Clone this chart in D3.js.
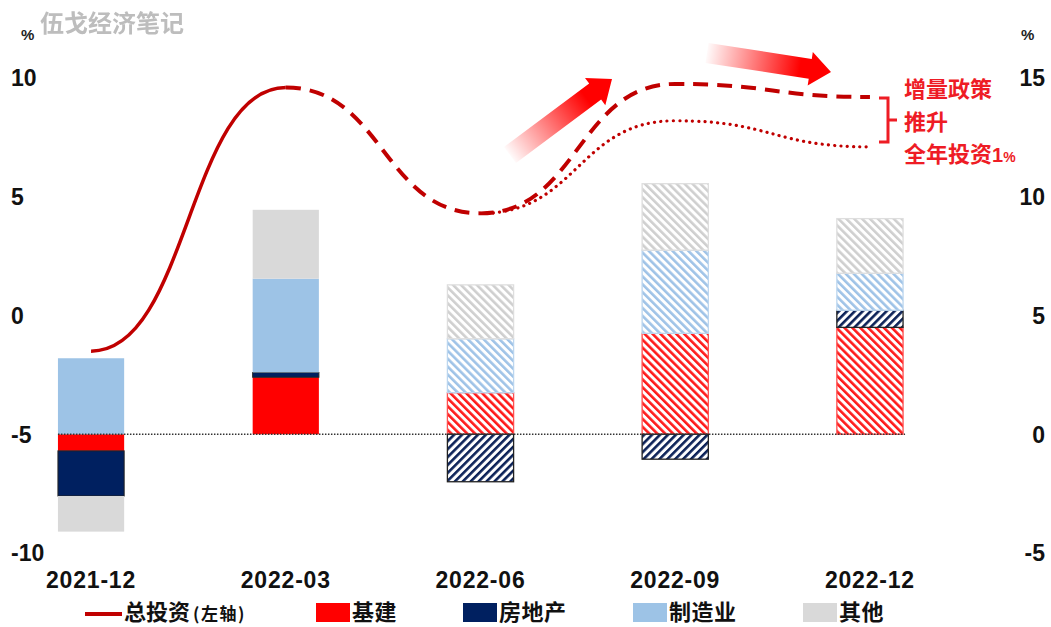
<!DOCTYPE html>
<html><head><meta charset="utf-8">
<script src="https://cdn.jsdelivr.net/npm/d3@7/dist/d3.min.js"></script>
<style>body{margin:0;background:#fff}svg{display:block}</style>
</head><body><svg id="c" width="1051" height="627"></svg>
<script>
// ---- data ----
const categories = ["2021-12", "2022-03", "2022-06", "2022-09", "2022-12"];
const infra        = [-0.7, 2.4, 1.75, 4.25, 4.5];   // 基建 (right axis)
const realEstate   = [-1.9, 0.2, -2.0, -1.05, 0.72]; // 房地产
const manufacturing= [3.2, 3.95, 2.27, 3.5, 1.56];   // 制造业
const others       = [-1.5, 2.9, 2.27, 2.8, 2.3];    // 其他
const projected    = [false, false, true, true, true];
const totalActualCats = ["2021-12", "2022-03"];
const totalActual     = [-1.5, 9.6];                 // 总投资 (left axis)
const totalPolicyCats = ["2022-03", "2022-06", "2022-09", "2022-12"];
const totalPolicy     = [9.6, 4.3, 9.75, 9.2];
const totalBaseCats   = ["2022-06", "2022-09", "2022-12"];
const totalBase       = [4.3, 8.2, 7.1];
const leftTicks  = [-10, -5, 0, 5, 10];
const rightTicks = [-5, 0, 5, 10, 15];
const seriesKeys = ["infra", "realEstate", "manufacturing", "others"];
const seriesNames = ["基建", "房地产", "制造业", "其他"];

// ---- setup ----
const svg = d3.select("#c");
const LAT = "'Liberation Sans', Arial, sans-serif";
const CJK = "'Noto Sans CJK SC', 'Noto Sans', sans-serif";
const colors = {infra: "#ff0000", realEstate: "#002060", manufacturing: "#9dc3e6", others: "#d9d9d9"};
const hatchColors = {infra: "#ff1a1a", realEstate: "#0c2258", manufacturing: "#9fc3e7", others: "#cfcfcf"};
const hatchDir = {infra: -45, realEstate: 45, manufacturing: -45, others: -45};
const outline = {infra: "#ff5050", realEstate: "#222", manufacturing: "#bcd6ef", others: "#dedede"};

const x = d3.scaleBand().domain(categories).range([19, 942]).paddingInner(0.66).paddingOuter(0.2);
const yL = d3.scaleLinear().domain([-10, 10]).range([553, 78]);
const yR = d3.scaleLinear().domain([-5, 15]).range([553, 78]);
const cx = c => x(c) + x.bandwidth() / 2;

const defs = svg.append("defs");
seriesKeys.forEach(k => {
  const p = defs.append("pattern").attr("id", "h-" + k)
    .attr("patternUnits", "userSpaceOnUse").attr("width", 5.6).attr("height", 10)
    .attr("patternTransform", `rotate(${hatchDir[k]})`);
  p.append("rect").attr("width", 5.6).attr("height", 10).attr("fill", "#fff");
  p.append("rect").attr("width", 2.6).attr("height", 10).attr("fill", hatchColors[k]);
});

// ---- stacked bars ----
const table = categories.map((c, i) => ({
  cat: c, infra: infra[i], realEstate: realEstate[i],
  manufacturing: manufacturing[i], others: others[i], proj: projected[i]
}));
const stacked = d3.stack().keys(seriesKeys).offset(d3.stackOffsetDiverging)(table);
const bars = svg.append("g");
stacked.forEach(s => {
  bars.selectAll(null).data(s).join("rect")
    .attr("x", d => x(d.data.cat))
    .attr("width", x.bandwidth())
    .attr("y", d => yR(Math.max(d[0], d[1])))
    .attr("height", d => Math.abs(yR(d[0]) - yR(d[1])))
    .attr("fill", d => d.data.proj ? `url(#h-${s.key})` : colors[s.key])
    .attr("stroke", d => (d.data.proj || s.key === "realEstate") ? outline[s.key] : "none")
    .attr("stroke-width", d => d.data.proj ? 1.3 : 1);
});

// zero line (dotted)
svg.append("line")
  .attr("x1", x(categories[0])).attr("x2", x(categories[categories.length - 1]) + x.bandwidth() + 2)
  .attr("y1", yR(0)).attr("y2", yR(0))
  .attr("stroke", "#333").attr("stroke-width", 1.5).attr("stroke-dasharray", "1.5,1.5");

// ---- lines ----
const lineColor = "#c00000";
const line = d3.line().x(d => cx(d[0])).y(d => yL(d[1])).curve(d3.curveBumpX);
svg.append("path").datum(totalActualCats.map((c, i) => [c, totalActual[i]]))
  .attr("d", line).attr("fill", "none").attr("stroke", lineColor).attr("stroke-width", 3.5);
svg.append("path").datum(totalPolicyCats.map((c, i) => [c, totalPolicy[i]]))
  .attr("d", line).attr("fill", "none").attr("stroke", lineColor).attr("stroke-width", 4)
  .attr("stroke-dasharray", "15,9");
svg.append("path").datum(totalBaseCats.map((c, i) => [c, totalBase[i]]))
  .attr("d", line).attr("fill", "none").attr("stroke", lineColor).attr("stroke-width", 3.2)
  .attr("stroke-linecap", "round").attr("stroke-dasharray", "0.1,6.2");

// ---- gradient arrows ----
function arrow(id, x0, y0, x1, y1) {
  const L = Math.hypot(x1 - x0, y1 - y0), ang = Math.atan2(y1 - y0, x1 - x0) * 180 / Math.PI;
  const hw = 10, hl = 21, hh = 17;
  const g = defs.append("linearGradient").attr("id", id).attr("gradientUnits", "userSpaceOnUse")
    .attr("x1", 0).attr("y1", 0).attr("x2", L).attr("y2", 0);
  g.append("stop").attr("offset", 0).attr("stop-color", "#ff0000").attr("stop-opacity", 0.02);
  g.append("stop").attr("offset", 0.75).attr("stop-color", "#ff0000").attr("stop-opacity", 1);
  g.append("stop").attr("offset", 1).attr("stop-color", "#ff0000").attr("stop-opacity", 1);
  svg.append("path").attr("transform", `translate(${x0},${y0}) rotate(${ang})`)
    .attr("d", `M0,${-hw}L${L - hl},${-hw}L${L - hl},${-hh}L${L},0L${L - hl},${hh}L${L - hl},${hw}L0,${hw}Z`)
    .attr("fill", `url(#${id})`);
}
arrow("ga1", 510, 155, 612, 79);
arrow("ga2", 707, 53, 831, 72);

// ---- bracket + annotation ----
const red = "#ee1c25";
svg.append("path").attr("d", "M879,98H888V142H879M888,120H897")
  .attr("fill", "none").attr("stroke", red).attr("stroke-width", 3);
const ann = svg.append("g").attr("font-family", CJK).attr("font-weight", "bold")
  .attr("font-size", 22).attr("fill", red);
ann.append("text").attr("x", 904).attr("y", 97).text("增量政策");
ann.append("text").attr("x", 904).attr("y", 130).text("推升");
const t3 = ann.append("text").attr("x", 904).attr("y", 162);
t3.append("tspan").text("全年投资");
t3.append("tspan").attr("font-family", LAT).attr("font-size", 20).text("1");
t3.append("tspan").attr("font-family", LAT).attr("font-size", 14).text("%");

// ---- axes labels ----
const tickG = svg.append("g").attr("font-family", LAT).attr("font-weight", "bold")
  .attr("font-size", 23).attr("fill", "#111");
tickG.selectAll(null).data(leftTicks).join("text")
  .attr("x", 11).attr("y", d => yL(d)).attr("dy", "0.36em").text(d => d);
tickG.selectAll(null).data(rightTicks).join("text")
  .attr("x", 1045).attr("text-anchor", "end").attr("y", d => yR(d)).attr("dy", "0.36em").text(d => d);
svg.append("g").attr("font-family", LAT).attr("font-weight", "bold").attr("font-size", 23)
  .attr("fill", "#111").attr("letter-spacing", 0.8)
  .selectAll(null).data(categories).join("text")
  .attr("x", d => cx(d)).attr("y", 588).attr("text-anchor", "middle").text(d => d);

// percent units
svg.append("text").attr("x", 21).attr("y", 40).attr("font-family", LAT).attr("font-weight", "bold")
  .attr("font-size", 15).attr("fill", "#222").attr("textLength", 10).text("%");
svg.append("text").attr("x", 1021).attr("y", 40).attr("font-family", LAT).attr("font-weight", "bold")
  .attr("font-size", 15).attr("fill", "#222").attr("textLength", 10).text("%");

// watermark
defs.append("filter").attr("id", "blur").append("feGaussianBlur").attr("stdDeviation", 0.6);
svg.append("text").attr("x", 40).attr("y", 32).attr("font-family", CJK).attr("font-weight", "bold")
  .attr("font-size", 24).attr("fill", "#bdbdbd").attr("filter", "url(#blur)").text("伍戈经济笔记");

// ---- legend ----
const lg = svg.append("g").attr("font-family", CJK).attr("font-weight", "bold").attr("fill", "#111");
lg.append("line").attr("x1", 85).attr("x2", 122).attr("y1", 614).attr("y2", 614)
  .attr("stroke", lineColor).attr("stroke-width", 4);
const lt = lg.append("text").attr("x", 124).attr("y", 620).attr("font-size", 22);
lt.append("tspan").text("总投资");
lt.append("tspan").attr("font-size", 17).attr("dx", 3).attr("letter-spacing", 1.5).text("(左轴)");
const legX = [316, 463, 633, 803];
seriesKeys.forEach((k, i) => {
  lg.append("rect").attr("x", legX[i]).attr("y", 603).attr("width", 34).attr("height", 19)
    .attr("fill", colors[k]);
  lg.append("text").attr("x", legX[i] + 36).attr("y", 620).attr("font-size", 22)
    .attr("letter-spacing", 0.5).text(seriesNames[i]);
});
</script></body></html>
